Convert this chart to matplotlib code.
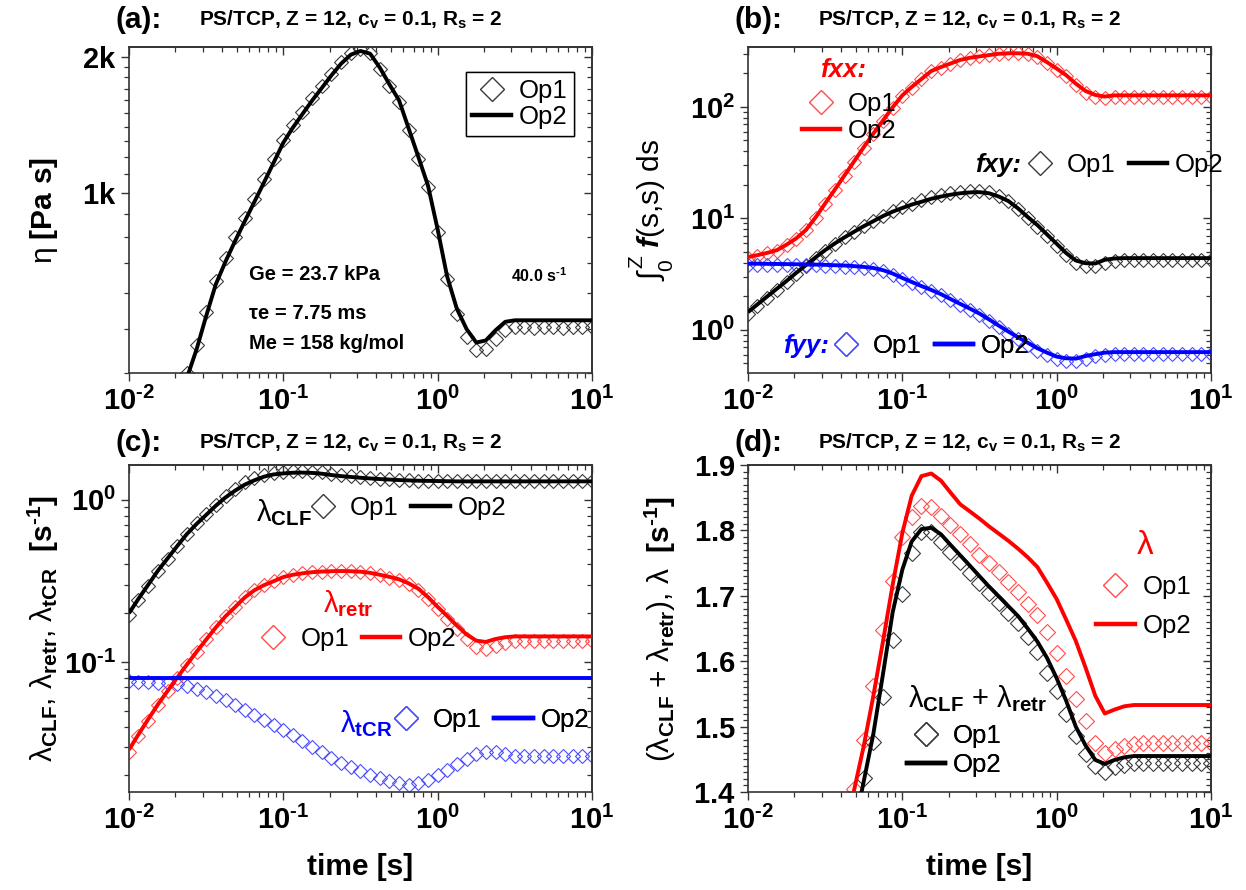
import numpy as np
import matplotlib
matplotlib.use('Agg')
import matplotlib.pyplot as plt
from matplotlib.lines import Line2D
from matplotlib.ticker import (FixedLocator, FuncFormatter, LogLocator,
                               MultipleLocator, NullFormatter)

plt.rcParams['font.family'] = ['Liberation Sans', 'DejaVu Sans']
plt.rcParams['mathtext.fontset'] = 'custom'
plt.rcParams['mathtext.rm'] = 'Liberation Sans'
plt.rcParams['mathtext.bf'] = 'Liberation Sans:bold'
plt.rcParams['mathtext.it'] = 'Liberation Sans:italic:bold'
plt.rcParams['mathtext.sf'] = 'Liberation Sans'

# ---------------- data ----------------
T = [0.0100, 0.0115, 0.0133, 0.0154, 0.0178, 0.0205, 0.0237, 0.0274, 0.0316, 0.0365,
     0.0422, 0.0487, 0.0562, 0.0649, 0.0750, 0.0866,
     0.100, 0.115, 0.133, 0.154, 0.178, 0.205, 0.237, 0.274, 0.316, 0.365,
     0.422, 0.487, 0.562, 0.649, 0.750, 0.866,
     1.00, 1.15, 1.33, 1.54, 1.78, 2.05, 2.37, 2.74, 3.16, 3.65,
     4.22, 4.87, 5.62, 6.49, 7.50, 8.66, 10.0]

# (a) viscosity
eta_op1 = [155, 180, 210, 246, 292, 343, 400, 462, 546, 640,
           718, 797, 880, 970, 1072, 1185, 1310, 1410, 1512, 1620,
           1725, 1835, 1948, 2040, 2075, 2040, 1880, 1720, 1590, 1380,
           1190, 1030, 820, 645, 540, 480, 450, 452, 475, 498,
           505, 505, 504, 505, 505, 504, 505, 505, 505]
eta_op2 = [150, 175, 205, 240, 285, 335, 390, 451, 534, 628,
           705, 783, 865, 955, 1055, 1167, 1291, 1392, 1493, 1601,
           1707, 1818, 1930, 2020, 2058, 2030, 1890, 1736, 1601, 1387,
           1200, 1037, 830, 655, 555, 500, 467, 472, 497, 519,
           523, 523, 523, 523, 523, 523, 523, 523, 523]

# (b) integrals of orientation tensor components
fxx_op1 = [4.40, 4.60, 4.85, 5.15, 5.75, 6.55, 7.80, 10.0, 13.4, 17.9,
           24.0, 32.2, 43.0, 57.0, 75.0, 98.5, 126, 149, 177, 208,
           225, 244, 263, 276, 286, 294, 300, 303, 302, 298,
           282, 248, 216, 188, 157, 134, 123, 120, 123, 124,
           124, 124, 124, 124, 124, 124, 124, 124, 124]
fxx_op2 = [4.50, 4.68, 4.90, 5.19, 5.82, 6.61, 7.85, 10.2, 13.6, 18.1,
           24.3, 32.5, 43.5, 57.7, 75.7, 99.3, 127, 151, 178, 210,
           228, 245, 264, 276, 284, 292, 300, 303, 303, 300,
           285, 252, 221, 193, 162, 139, 128, 124, 127, 127,
           127, 127, 127, 127, 127, 127, 127, 127, 127]
fxy_op1 = [1.38, 1.63, 1.93, 2.28, 2.70, 3.20, 3.76, 4.43, 5.15, 5.93,
           6.75, 7.60, 8.55, 9.50, 10.6, 11.6, 12.6, 13.6, 14.5, 15.4,
           16.2, 16.8, 17.3, 17.6, 17.6, 17.1, 15.9, 14.3, 12.2, 10.1,
           8.45, 6.95, 5.70, 4.70, 4.00, 3.75, 3.72, 4.02, 4.15, 4.20,
           4.20, 4.20, 4.20, 4.20, 4.20, 4.20, 4.20, 4.20, 4.20]
fxy_op2 = [1.44, 1.69, 1.99, 2.34, 2.75, 3.24, 3.80, 4.47, 5.19, 5.96,
           6.76, 7.59, 8.51, 9.44, 10.5, 11.5, 12.4, 13.3, 14.1, 15.0,
           15.7, 16.3, 16.8, 17.1, 17.2, 16.8, 15.7, 14.3, 12.3, 10.3,
           8.71, 7.18, 5.92, 4.90, 4.19, 3.96, 3.94, 4.25, 4.37, 4.40,
           4.40, 4.40, 4.40, 4.40, 4.40, 4.40, 4.40, 4.40, 4.40]
fyy_op1 = [3.85, 3.85, 3.84, 3.83, 3.82, 3.81, 3.79, 3.78, 3.76, 3.73,
           3.70, 3.65, 3.58, 3.49, 3.34, 3.12, 2.86, 2.64, 2.43, 2.24,
           2.05, 1.85, 1.67, 1.51, 1.36, 1.20, 1.05, 0.925, 0.820, 0.730,
           0.650, 0.590, 0.545, 0.525, 0.522, 0.550, 0.578, 0.600, 0.610, 0.610,
           0.610, 0.610, 0.610, 0.610, 0.610, 0.610, 0.610, 0.610, 0.610]
fyy_op2 = [3.92, 3.92, 3.91, 3.90, 3.89, 3.88, 3.86, 3.85, 3.83, 3.80,
           3.78, 3.73, 3.67, 3.59, 3.43, 3.20, 2.92, 2.69, 2.47, 2.28,
           2.09, 1.89, 1.71, 1.55, 1.40, 1.24, 1.09, 0.964, 0.857, 0.767,
           0.684, 0.624, 0.575, 0.556, 0.552, 0.582, 0.605, 0.624, 0.631, 0.631,
           0.631, 0.631, 0.631, 0.631, 0.631, 0.631, 0.631, 0.631, 0.631]

# (c) relaxation rates
clf_op1 = [0.195, 0.240, 0.295, 0.362, 0.434, 0.518, 0.617, 0.715, 0.815, 0.932,
           1.050, 1.160, 1.280, 1.355, 1.425, 1.468, 1.490, 1.502, 1.503, 1.495,
           1.476, 1.447, 1.420, 1.398, 1.378, 1.362, 1.348, 1.337, 1.327, 1.320,
           1.314, 1.311, 1.308, 1.306, 1.305, 1.305, 1.305, 1.305, 1.305, 1.305,
           1.305, 1.305, 1.305, 1.305, 1.305, 1.305, 1.305, 1.305, 1.305]
clf_op2 = [0.200, 0.245, 0.299, 0.366, 0.436, 0.518, 0.615, 0.710, 0.807, 0.920,
           1.035, 1.140, 1.240, 1.320, 1.390, 1.435, 1.455, 1.469, 1.472, 1.466,
           1.449, 1.422, 1.400, 1.384, 1.368, 1.355, 1.343, 1.334, 1.324, 1.318,
           1.312, 1.309, 1.306, 1.303, 1.300, 1.300, 1.300, 1.300, 1.300, 1.300,
           1.300, 1.300, 1.300, 1.300, 1.300, 1.300, 1.300, 1.300, 1.300]
retr_op1 = [0.0280, 0.0350, 0.0436, 0.0542, 0.0660, 0.0798, 0.0964, 0.1158, 0.1378, 0.1640,
            0.1922, 0.2192, 0.2510, 0.2780, 0.2990, 0.3160, 0.3350, 0.3460, 0.3530, 0.3585,
            0.3615, 0.3630, 0.3635, 0.3622, 0.3592, 0.3530, 0.3430, 0.3320, 0.3200, 0.3010,
            0.2780, 0.2450, 0.2110, 0.1840, 0.1590, 0.1380, 0.1230, 0.1200, 0.1260, 0.1310,
            0.1340, 0.1350, 0.1350, 0.1350, 0.1350, 0.1350, 0.1350, 0.1350, 0.1350]
retr_op2 = [0.0288, 0.0357, 0.0443, 0.0548, 0.0664, 0.0800, 0.0964, 0.1156, 0.1374, 0.1633,
            0.1914, 0.2183, 0.2500, 0.2770, 0.2980, 0.3150, 0.3342, 0.3451, 0.3524, 0.3581,
            0.3614, 0.3631, 0.3639, 0.3631, 0.3606, 0.3548, 0.3451, 0.3350, 0.3236, 0.3055,
            0.2831, 0.2512, 0.2188, 0.1928, 0.1679, 0.1479, 0.1355, 0.1330, 0.1387, 0.1422,
            0.1439, 0.1439, 0.1439, 0.1439, 0.1439, 0.1439, 0.1439, 0.1439, 0.1439]
tcr_op1 = [0.0760, 0.0757, 0.0752, 0.0746, 0.0741, 0.0728, 0.0708, 0.0684, 0.0652, 0.0617,
           0.0581, 0.0542, 0.0507, 0.0473, 0.0442, 0.0411, 0.0382, 0.0353, 0.0326, 0.0300,
           0.0277, 0.0257, 0.0240, 0.0225, 0.0212, 0.0202, 0.0193, 0.0184, 0.0179, 0.0175,
           0.0179, 0.0188, 0.0200, 0.0215, 0.0234, 0.0254, 0.0270, 0.0280, 0.0280, 0.0272,
           0.0264, 0.0262, 0.0262, 0.0262, 0.0262, 0.0262, 0.0262, 0.0262, 0.0262]
tcr_op2 = [0.0797, 0.0797, 0.0797, 0.0797, 0.0797, 0.0797, 0.0797, 0.0797, 0.0797, 0.0797,
           0.0797, 0.0797, 0.0797, 0.0797, 0.0797, 0.0797, 0.0797, 0.0797, 0.0797, 0.0797,
           0.0797, 0.0797, 0.0797, 0.0797, 0.0797, 0.0797, 0.0797, 0.0797, 0.0797, 0.0797,
           0.0797, 0.0797, 0.0797, 0.0797, 0.0797, 0.0797, 0.0797, 0.0797, 0.0797, 0.0797,
           0.0797, 0.0797, 0.0797, 0.0797, 0.0797, 0.0797, 0.0797, 0.0797, 0.0797]

# (d) total rates
lam_op1 = [0.27, 0.33, 0.40, 0.48, 0.57, 0.67, 0.78, 0.90, 1.02, 1.15,
           1.32, 1.405, 1.479, 1.562, 1.648, 1.722, 1.790, 1.820, 1.838, 1.836,
           1.822, 1.808, 1.794, 1.779, 1.763, 1.750, 1.737, 1.721, 1.706, 1.688,
           1.670, 1.645, 1.613, 1.578, 1.542, 1.508, 1.475, 1.459, 1.465, 1.470,
           1.474, 1.475, 1.475, 1.475, 1.475, 1.475, 1.475, 1.475, 1.475]
lam_op2 = [0.28, 0.34, 0.41, 0.49, 0.58, 0.68, 0.79, 0.91, 1.03, 1.16,
           1.33, 1.403, 1.470, 1.547, 1.631, 1.717, 1.796, 1.853, 1.883, 1.887,
           1.876, 1.858, 1.840, 1.829, 1.818, 1.806, 1.795, 1.784, 1.772, 1.759,
           1.744, 1.720, 1.695, 1.664, 1.631, 1.590, 1.547, 1.520, 1.526, 1.531,
           1.533, 1.533, 1.533, 1.533, 1.533, 1.533, 1.533, 1.533, 1.533]
sum_op1 = [0.22, 0.27, 0.33, 0.41, 0.49, 0.59, 0.70, 0.82, 0.94, 1.07,
           1.20, 1.370, 1.421, 1.477, 1.545, 1.632, 1.702, 1.765, 1.797, 1.797,
           1.782, 1.767, 1.751, 1.735, 1.719, 1.704, 1.689, 1.674, 1.659, 1.637,
           1.614, 1.582, 1.554, 1.520, 1.486, 1.458, 1.439, 1.431, 1.438, 1.442,
           1.444, 1.444, 1.444, 1.444, 1.444, 1.444, 1.444, 1.444, 1.444]
sum_op2 = [0.23, 0.28, 0.34, 0.42, 0.50, 0.60, 0.71, 0.83, 0.95, 1.08,
           1.21, 1.344, 1.416, 1.489, 1.581, 1.675, 1.740, 1.783, 1.802, 1.804,
           1.794, 1.778, 1.762, 1.746, 1.730, 1.714, 1.699, 1.684, 1.669, 1.650,
           1.630, 1.605, 1.574, 1.540, 1.500, 1.471, 1.449, 1.443, 1.449, 1.453,
           1.455, 1.455, 1.455, 1.455, 1.455, 1.455, 1.455, 1.455, 1.455]

TITLE = r'PS/TCP, Z = 12, c$_{\mathbf{v}}$ = 0.1, R$_{\mathbf{s}}$ = 2'
PANELS = ['(a):', '(b):', '(c):', '(d):']

# ---------------- style ----------------
SPC = '#333333'
RED = '#ff0000'
BLUE = '#0000ff'
RED_M = '#ff4d4d'
BLUE_M = '#4d4dff'
BLK_M = '#3a3a3a'
TICK_FS = 21
LEG_FS = 18.5
LAB_FS = 21.5
HY = '\u2010'   # short hyphen used by the original for negative exponents


def powfmt(x, pos):
    e = int(round(np.log10(x)))
    s = str(e).replace('-', HY)
    return r'$\mathbf{10^{%s}}$' % s


def style(ax, ymajor=None, yminor=None, yfmt=None, ylog=True):
    ax.set_xscale('log')
    if ylog:
        ax.set_yscale('log')
    ax.set_xlim(0.01, 10)
    for s in ax.spines.values():
        s.set_color(SPC)
        s.set_linewidth(1.2)
    ax.tick_params(which='both', direction='out', color=SPC, labelcolor='black',
                   top=False, right=False, labelsize=TICK_FS)
    ax.tick_params(which='major', length=6, width=1.0)
    ax.tick_params(which='minor', length=3.5, width=0.9)
    ax.tick_params(axis='x', pad=4)
    ax.tick_params(axis='y', pad=3)
    ax.xaxis.set_major_locator(LogLocator(10, numticks=10))
    ax.xaxis.set_minor_locator(LogLocator(10, subs=np.arange(2, 10), numticks=10))
    ax.xaxis.set_major_formatter(FuncFormatter(powfmt))
    ax.xaxis.set_minor_formatter(NullFormatter())
    ax.yaxis.set_major_locator(ymajor)
    ax.yaxis.set_minor_locator(yminor)
    ax.yaxis.set_major_formatter(yfmt)
    ax.yaxis.set_minor_formatter(NullFormatter())

    sx = ax.secondary_xaxis('top')
    sx.xaxis.set_major_locator(LogLocator(10, numticks=10))
    sx.xaxis.set_minor_locator(LogLocator(10, subs=np.arange(2, 10), numticks=10))
    sx.tick_params(which='both', direction='in', color=SPC, labeltop=False)
    sx.tick_params(which='major', length=6, width=1.0)
    sx.tick_params(which='minor', length=3.5, width=0.9)
    sx.spines['top'].set_color(SPC)
    sx.spines['top'].set_linewidth(1.2)

    sy = ax.secondary_yaxis('right')
    sy.yaxis.set_major_locator(ymajor)
    sy.yaxis.set_minor_locator(yminor)
    sy.tick_params(which='both', direction='in', color=SPC, labelright=False)
    sy.tick_params(which='major', length=6, width=1.0)
    sy.tick_params(which='minor', length=3.5, width=0.9)
    sy.spines['right'].set_color(SPC)
    sy.spines['right'].set_linewidth(1.2)


def title(ax, lab, y):
    ax.text(-0.03, y, lab, transform=ax.transAxes, fontsize=21.5, fontweight='bold',
            ha='left', va='center')
    ax.text(0.152, y, TITLE, transform=ax.transAxes, fontsize=15, fontweight='bold',
            ha='left', va='center')


def op_legend(ax, mcol, lcol, x, y, ncol, labelspacing=0.2, frame=False, loc='center left'):
    h1 = Line2D([], [], ls='none', marker='D', ms=12.5, mfc='none', mec=mcol, mew=1.0)
    h2 = Line2D([], [], color=lcol, lw=3.2)
    leg = ax.legend([h1, h2], ['Op1', 'Op2'], loc=loc, bbox_to_anchor=(x, y),
                    ncol=ncol, frameon=frame, fontsize=LEG_FS, handlelength=1.5,
                    handletextpad=0.3, columnspacing=0.5, borderpad=0.25 if frame else 0,
                    borderaxespad=0, labelspacing=labelspacing, fancybox=False)
    if frame:
        leg.get_frame().set_edgecolor('black')
        leg.get_frame().set_linewidth(1.0)
        leg.get_frame().set_alpha(1)
    ax.add_artist(leg)
    return leg


def ylab(ax, text, x, y=0.5, fs=LAB_FS):
    ax.set_ylabel(text, fontsize=fs)
    ax.yaxis.set_label_coords(x, y)
    ax.yaxis.label.set_va('center')


def xlab(ax):
    ax.set_xlabel('time [s]', fontsize=LAB_FS, fontweight='bold')
    ax.xaxis.set_label_coords(0.5, -0.229)
    ax.xaxis.label.set_va('center')


def op1(ax, y, col, ms=6.8):
    ax.plot(T, y, ls='none', marker='D', ms=ms, mfc='none', mec=col, mew=0.8, zorder=2)


def op2(ax, y, col):
    ax.plot(T, y, color=col, lw=2.8, zorder=3, solid_capstyle='butt')


fig = plt.figure(figsize=(12.46, 8.90), dpi=100)
W, H = 1246.0, 890.0
axa = fig.add_axes([129 / W, 1 - 373 / H, 463 / W, 326 / H])
axb = fig.add_axes([748 / W, 1 - 373 / H, 463 / W, 326 / H])
axc = fig.add_axes([129 / W, 1 - 792 / H, 463 / W, 327 / H])
axd = fig.add_axes([748 / W, 1 - 792 / H, 463 / W, 327 / H])

INV = r'$\mathbf{[s^{%s1}]}$' % HY

# ---------------- (a) ----------------
ka = {1000: '1k', 2000: '2k'}
style(axa, FixedLocator([1000, 2000]),
      FixedLocator([400, 500, 600, 700, 800, 900, 1100, 1200, 1300, 1400,
                    1500, 1600, 1700, 1800, 1900]),
      FuncFormatter(lambda v, p: r'$\mathbf{%s}$' % ka.get(int(round(v)), '')))
axa.set_ylim(400, 2100)
op1(axa, eta_op1, BLK_M)
op2(axa, eta_op2, 'black')
title(axa, PANELS[0], 1.083)
ylab(axa, r'η $\mathbf{[Pa\ s]}$', -0.184)
op_legend(axa, BLK_M, 'black', 0.728, 0.922, 1, labelspacing=0.1, frame=True,
          loc='upper left')
axa.text(0.26, 0.301, 'Ge = 23.7 kPa', transform=axa.transAxes, fontsize=14.5,
         fontweight='bold', va='center')
axa.text(0.26, 0.184, 'τe = 7.75 ms', transform=axa.transAxes, fontsize=14.5,
         fontweight='bold', va='center')
axa.text(0.26, 0.092, 'Me = 158 kg/mol', transform=axa.transAxes, fontsize=14.5,
         fontweight='bold', va='center')
axa.text(0.825, 0.30, r'40.0 s$^{\mathbf{%s1}}$' % HY, transform=axa.transAxes,
         fontsize=11.5, fontweight='bold', va='center')

# ---------------- (b) ----------------
style(axb, LogLocator(10, numticks=10), LogLocator(10, subs=np.arange(2, 10), numticks=10),
      FuncFormatter(powfmt))
axb.set_ylim(0.41, 345)
op1(axb, fxx_op1, RED_M)
op1(axb, fxy_op1, BLK_M)
op1(axb, fyy_op1, BLUE_M)
op2(axb, fxx_op2, RED)
op2(axb, fxy_op2, 'black')
op2(axb, fyy_op2, BLUE)
title(axb, PANELS[1], 1.083)
ylab(axb, r'$\int_{\mathrm{0}}^{\mathrm{Z}}$ $\mathit{f}$(s,s) ds', -0.21)
axb.text(0.155, 0.929, 'fxx:', transform=axb.transAxes, color=RED, fontsize=LEG_FS,
         fontweight='bold', fontstyle='italic', va='center')
op_legend(axb, RED_M, RED, 0.116, 0.783, 1, labelspacing=0.12)
axb.text(0.49, 0.638, 'fxy:', transform=axb.transAxes, color='black', fontsize=LEG_FS,
         fontweight='bold', fontstyle='italic', va='center')
op_legend(axb, BLK_M, 'black', 0.589, 0.638, 2)
axb.text(0.075, 0.082, 'fyy:', transform=axb.transAxes, color=BLUE, fontsize=LEG_FS,
         fontweight='bold', fontstyle='italic', va='center')
op_legend(axb, BLUE_M, BLUE, 0.17, 0.082, 2)

# ---------------- (c) ----------------
style(axc, LogLocator(10, numticks=10), LogLocator(10, subs=np.arange(2, 10), numticks=10),
      FuncFormatter(powfmt))
axc.set_ylim(0.0158, 1.64)
op1(axc, clf_op1, BLK_M, 7.2)
op1(axc, retr_op1, RED_M, 7.2)
op1(axc, tcr_op1, BLUE_M, 7.2)
op2(axc, clf_op2, 'black')
op2(axc, retr_op2, RED)
op2(axc, tcr_op2, BLUE)
title(axc, PANELS[2], 1.067)
ylab(axc, r'λ$_{\mathbf{CLF}}$, λ$_{\mathbf{retr}}$, λ$_{\mathbf{tCR}}$  ' + INV, -0.184)
xlab(axc)
axc.text(0.275, 0.855, r'λ$_{\mathbf{CLF}}$', transform=axc.transAxes, fontsize=21,
         va='center')
op_legend(axc, BLK_M, 'black', 0.377, 0.867, 2)
axc.text(0.42, 0.575, r'λ$_{\mathbf{retr}}$', transform=axc.transAxes, fontsize=21,
         color=RED, va='center')
op_legend(axc, RED_M, RED, 0.27, 0.467, 2)
axc.text(0.455, 0.21, r'λ$_{\mathbf{tCR}}$', transform=axc.transAxes, fontsize=21,
         color=BLUE, va='center')
op_legend(axc, BLUE_M, BLUE, 0.556, 0.22, 2)

# ---------------- (d) ----------------
style(axd, MultipleLocator(0.1), MultipleLocator(0.01),
      FuncFormatter(lambda v, p: r'$\mathbf{%.1f}$' % v), ylog=False)
axd.set_ylim(1.4, 1.9)
op1(axd, lam_op1, RED_M, 8.5)
op1(axd, sum_op1, BLK_M, 8.5)
op2(axd, lam_op2, RED)
op2(axd, sum_op2, 'black')
title(axd, PANELS[3], 1.067)
ylab(axd, r'(λ$_{\mathbf{CLF}}$ + λ$_{\mathbf{retr}}$), λ  ' + INV, -0.19)
xlab(axd)
axd.text(0.858, 0.755, 'λ', transform=axd.transAxes, fontsize=24, color=RED,
         ha='center', va='center')
op_legend(axd, RED_M, RED, 0.752, 0.567, 1, labelspacing=0.6)
axd.text(0.345, 0.285, r'λ$_{\mathbf{CLF}}$ + λ$_{\mathbf{retr}}$', transform=axd.transAxes,
         fontsize=21, va='center')
op_legend(axd, BLK_M, 'black', 0.343, 0.128, 1, labelspacing=0.2)

fig.savefig('out.png', dpi=100, facecolor='white')
